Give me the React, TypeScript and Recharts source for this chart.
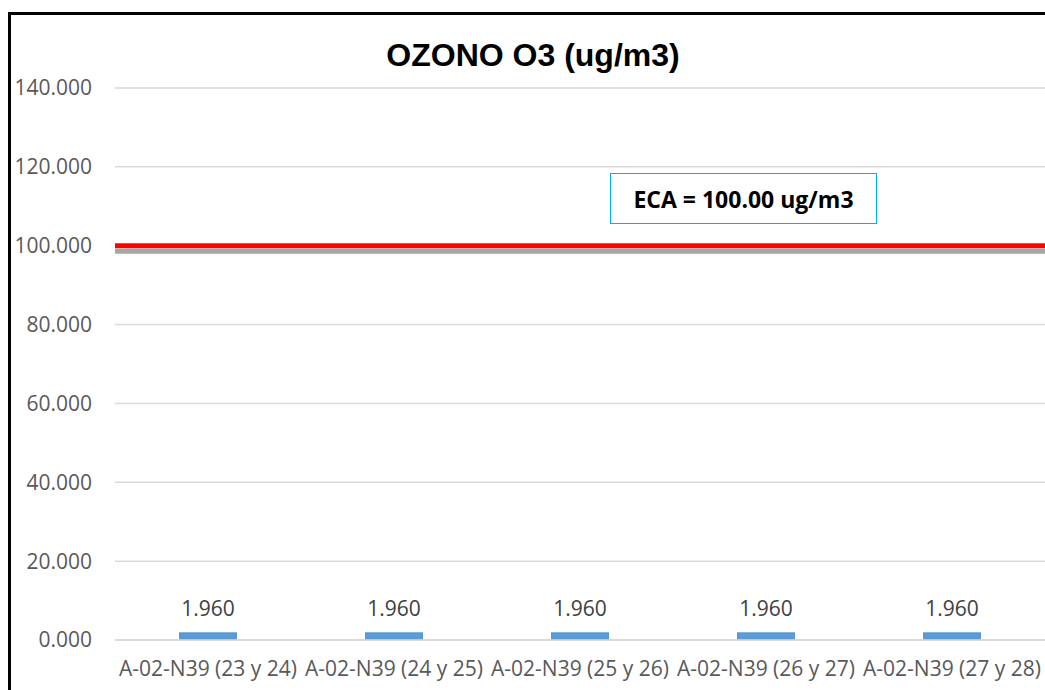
import React from 'react';
import {
  BarChart,
  Bar,
  XAxis,
  YAxis,
  CartesianGrid,
  ReferenceLine,
  LabelList,
} from 'recharts';

const categories = [
  'A-02-N39 (23 y 24)',
  'A-02-N39 (24 y 25)',
  'A-02-N39 (25 y 26)',
  'A-02-N39 (26 y 27)',
  'A-02-N39 (27 y 28)',
];
const ozoneValues = [1.96, 1.96, 1.96, 1.96, 1.96];
const yTicks = [0, 20, 40, 60, 80, 100, 120, 140];
const ecaLimit = 100;
const ecaShadow = 98.6;

const data = categories.map((name, i) => ({ name, ozone: ozoneValues[i] }));

const FONT = '"Open Sans", sans-serif';

export default function App() {
  return (
    <div style={{ position: 'relative', width: 1045, height: 690, overflow: 'hidden', background: '#fff' }}>
      <style>{'body{margin:0;overflow:hidden}'}</style>
      {/* outer frame, runs off the right and bottom edge like the original */}
      <div
        style={{
          position: 'absolute',
          left: 8,
          top: 12,
          width: 1100,
          height: 720,
          border: '3px solid #000',
          boxSizing: 'border-box',
        }}
      />
      <div
        style={{
          position: 'absolute',
          left: 0,
          top: 37,
          width: 1066,
          textAlign: 'center',
          fontFamily: '"Liberation Sans", Arial, sans-serif',
          fontWeight: 'bold',
          fontSize: 32,
          lineHeight: '36px',
          color: '#000',
        }}
      >
        OZONO O3 (ug/m3)
      </div>
      <div style={{ position: 'absolute', left: 0, top: 0 }}>
        <BarChart
          width={1045}
          height={690}
          data={data}
          margin={{ top: 88, right: 0, left: 0, bottom: 20 }}
        >
          <CartesianGrid horizontal vertical={false} stroke="#D9D9D9" strokeWidth={1.5} />
          <XAxis
            dataKey="name"
            interval={0}
            tickLine={false}
            axisLine={{ stroke: '#D9D9D9', strokeWidth: 1.5 }}
            tick={{ fontSize: 21, fill: '#595959', fontFamily: FONT }}
            tickMargin={15}
          />
          <YAxis
            width={115}
            domain={[0, 140]}
            ticks={yTicks}
            tickFormatter={(v: number) => v.toFixed(3)}
            axisLine={false}
            tickLine={false}
            tickMargin={17}
            tick={{ fontSize: 21, fill: '#595959', fontFamily: FONT }}
          />
          <ReferenceLine y={ecaShadow} stroke="#A5A5A5" strokeWidth={5} />
          <ReferenceLine y={ecaLimit} stroke="#FF0000" strokeWidth={5} />
          <Bar dataKey="ozone" fill="#5B9BD5" barSize={58} isAnimationActive={false}>
            <LabelList
              dataKey="ozone"
              position="top"
              offset={16}
              formatter={(v: number) => v.toFixed(3)}
              style={{ fontSize: 21, fill: '#404040', fontFamily: FONT }}
            />
          </Bar>
        </BarChart>
      </div>
      <div
        style={{
          position: 'absolute',
          left: 610,
          top: 173,
          width: 267,
          height: 51,
          border: '1.5px solid #00B0F0',
          boxSizing: 'border-box',
          background: '#fff',
          display: 'flex',
          alignItems: 'center',
          justifyContent: 'center',
          fontFamily: FONT,
          fontWeight: 'bold',
          fontSize: 23,
          color: '#000',
        }}
      >
        ECA = 100.00 ug/m3
      </div>
    </div>
  );
}
